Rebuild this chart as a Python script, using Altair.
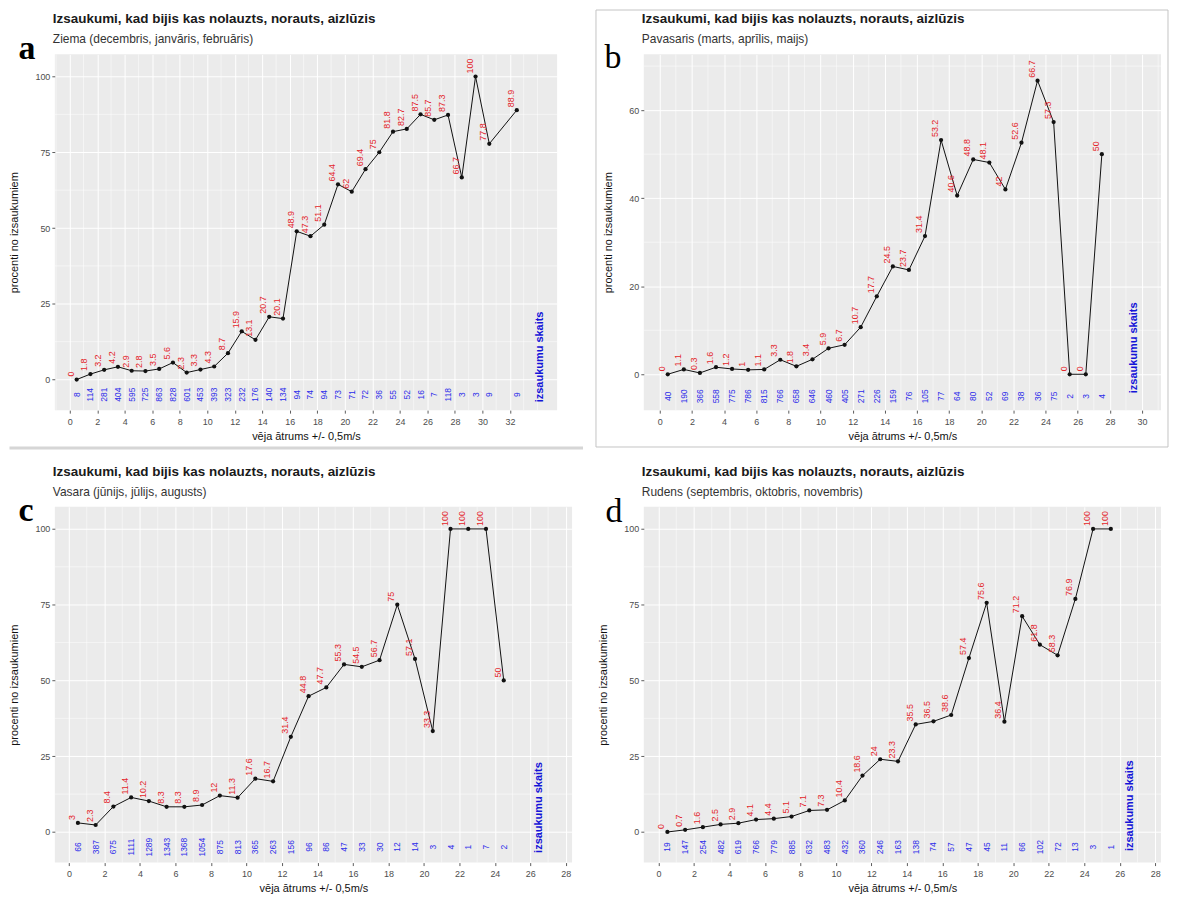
import altair as alt
import pandas as pd

TITLE = "Izsaukumi, kad bijis kas nolauzts, norauts, aizlūzis"
X_TITLE = "vēja ātrums +/- 0,5m/s"
Y_TITLE = "procenti no izsaukumiem"
NOTE = "izsaukumu skaits"

# ---- panel a: winter ----
a_season = "Ziema (decembris, janvāris, februāris)"
a_speed = [0.5, 1.5, 2.5, 3.5, 4.5, 5.5, 6.5, 7.5, 8.5, 9.5, 10.5, 11.5, 12.5, 13.5, 14.5, 15.5,
           16.5, 17.5, 18.5, 19.5, 20.5, 21.5, 22.5, 23.5, 24.5, 25.5, 26.5, 27.5, 28.5, 29.5, 30.5, 32.5]
a_pct = [0, 1.8, 3.2, 4.2, 2.9, 2.8, 3.5, 5.6, 2.3, 3.3, 4.3, 8.7, 15.9, 13.1, 20.7, 20.1,
         48.9, 47.3, 51.1, 64.4, 62, 69.4, 75, 81.8, 82.7, 87.5, 85.7, 87.3, 66.7, 100, 77.8, 88.9]
a_count = [8, 114, 281, 404, 595, 725, 863, 828, 601, 453, 393, 323, 232, 176, 140, 134,
           94, 74, 94, 73, 71, 72, 36, 55, 52, 16, 7, 118, 3, 3, 9, 9]

# ---- panel b: spring ----
b_season = "Pavasaris (marts, aprīlis, maijs)"
b_speed = [0.5, 1.5, 2.5, 3.5, 4.5, 5.5, 6.5, 7.5, 8.5, 9.5, 10.5, 11.5, 12.5, 13.5, 14.5, 15.5,
           16.5, 17.5, 18.5, 19.5, 20.5, 21.5, 22.5, 23.5, 24.5, 25.5, 26.5, 27.5]
b_pct = [0, 1.1, 0.3, 1.6, 1.2, 1, 1.1, 3.3, 1.8, 3.4, 5.9, 6.7, 10.7, 17.7, 24.5, 23.7,
         31.4, 53.2, 40.6, 48.8, 48.1, 42, 52.6, 66.7, 57.3, 0, 0, 50]
b_count = [40, 190, 366, 558, 775, 786, 815, 766, 658, 646, 460, 405, 271, 226, 159, 76,
           105, 77, 64, 80, 52, 69, 38, 36, 75, 2, 3, 4]

# ---- panel c: summer ----
c_season = "Vasara (jūnijs, jūlijs, augusts)"
c_speed = [0.5, 1.5, 2.5, 3.5, 4.5, 5.5, 6.5, 7.5, 8.5, 9.5, 10.5, 11.5, 12.5, 13.5, 14.5, 15.5,
           16.5, 17.5, 18.5, 19.5, 20.5, 21.5, 22.5, 23.5, 24.5]
c_pct = [3, 2.3, 8.4, 11.4, 10.2, 8.3, 8.3, 8.9, 12, 11.3, 17.6, 16.7, 31.4, 44.8, 47.7, 55.3,
         54.5, 56.7, 75, 57.1, 33.3, 100, 100, 100, 50]
c_count = [66, 387, 675, 1111, 1289, 1343, 1368, 1054, 875, 813, 365, 263, 156, 96, 86, 47,
           33, 30, 12, 14, 3, 4, 1, 7, 2]

# ---- panel d: autumn ----
d_season = "Rudens (septembris, oktobris, novembris)"
d_speed = [0.5, 1.5, 2.5, 3.5, 4.5, 5.5, 6.5, 7.5, 8.5, 9.5, 10.5, 11.5, 12.5, 13.5, 14.5, 15.5,
           16.5, 17.5, 18.5, 19.5, 20.5, 21.5, 22.5, 23.5, 24.5, 25.5]
d_pct = [0, 0.7, 1.6, 2.5, 2.9, 4.1, 4.4, 5.1, 7.1, 7.3, 10.4, 18.6, 24, 23.3, 35.5, 36.5,
         38.6, 57.4, 75.6, 36.4, 71.2, 61.8, 58.3, 76.9, 100, 100]
d_count = [19, 147, 254, 482, 619, 766, 779, 885, 632, 483, 432, 360, 246, 163, 138, 74,
           57, 47, 45, 11, 66, 102, 72, 13, 3, 1]

# ticks / grid
a_xticks = list(range(0, 33, 2))
b_xticks = list(range(0, 31, 2))
cd_xticks = list(range(0, 29, 2))
a_xminor = [-1] + list(range(1, 34, 2)) + [34]
b_xminor = list(range(1, 32, 2))
cd_xminor = list(range(1, 28, 2))
pct_ticks = [0, 25, 50, 75, 100]
b_yticks = [0, 20, 40, 60]
pct_minor = [12.5, 37.5, 62.5, 87.5]
b_yminor = [10, 30, 50, 70]

FONT = "Liberation Sans"
RED = "#E3262B"
BLUE = "#2B2BEA"
one = pd.DataFrame({"k": [0]})


def panel(letter, bold_letter, letter_xy, season, speed, pct, count, xdom, ydom,
          xticks, yticks, xminor, yminor, note_xy, width, height, extras=()):
    df = pd.DataFrame({"x": speed, "pct": pct, "n": count})
    X = alt.X("x:Q", scale=alt.Scale(domain=xdom, nice=False, zero=False),
              axis=alt.Axis(values=xticks, tickCount=200, format="d", title=X_TITLE,
                            labelFlush=False, labelOverlap=False))
    Y = alt.Y("pct:Q", scale=alt.Scale(domain=ydom, nice=False, zero=False),
              axis=alt.Axis(values=yticks, tickCount=200, format="d", title=Y_TITLE,
                            labelOverlap=False))

    base = alt.Chart(df)
    line = base.mark_line(color="#111111", strokeWidth=1).encode(x=X, y=Y)
    minor_x = alt.Chart(pd.DataFrame({"x": xminor})).mark_rule(
        color="white", strokeWidth=0.5).encode(x=X)
    minor_y = alt.Chart(pd.DataFrame({"pct": yminor})).mark_rule(
        color="white", strokeWidth=0.5).encode(y=Y)
    pts = base.mark_circle(size=18, color="#111111", opacity=1).encode(x=X, y=Y)
    lab = base.mark_text(angle=270, align="left", baseline="middle", dx=3, dy=-6,
                         fontSize=9, font=FONT, color=RED).encode(
        x=X, y=Y, text=alt.Text("pct:Q", format=".1~f"))
    cnt = base.mark_text(angle=270, align="center", baseline="middle",
                         fontSize=8.5, font=FONT, color=BLUE).encode(
        x=X, y=alt.datum(-5), text="n:Q")
    note = alt.Chart(one).mark_text(text=NOTE, angle=270, align="left", baseline="middle",
                                    fontSize=11, fontWeight="bold", font=FONT,
                                    color="#1414D8").encode(
        x=alt.datum(note_xy[0]), y=alt.datum(note_xy[1]))
    ttl = alt.Chart(one).mark_text(text=TITLE, align="left", baseline="middle",
                                   fontSize=13.5, fontWeight="bold", font=FONT,
                                   color="#1a1a1a").encode(x=alt.value(-2), y=alt.value(-35))
    sub = alt.Chart(one).mark_text(text=season, align="left", baseline="middle",
                                   fontSize=12, font=FONT, color="#333333").encode(
        x=alt.value(-2), y=alt.value(-15))
    let = alt.Chart(one).mark_text(text=letter, align="center", baseline="alphabetic",
                                   fontSize=34, font="Liberation Serif",
                                   fontWeight="bold" if bold_letter else "normal",
                                   color="black").encode(
        x=alt.value(letter_xy[0]), y=alt.value(letter_xy[1]))
    layers = [minor_x, minor_y, line, pts, lab, cnt, note, ttl, sub, let] + list(extras)
    return alt.layer(*layers).properties(width=width, height=height)


sep_a = alt.Chart(one).mark_rule(color="#D6D6D6", strokeWidth=3).encode(
    x=alt.value(-45.5), x2=alt.value(530), y=alt.value(395))
frame_b = alt.Chart(one).mark_rect(fill="transparent", stroke="#C4C4C4", strokeWidth=1).encode(
    x=alt.value(-48), x2=alt.value(526), y=alt.value(-44.5), y2=alt.value(394))

pa = panel("a", True, (-28, 5), a_season, a_speed, a_pct, a_count,
           [-1.087, 35.43], [-10.1, 107.3], a_xticks, pct_ticks, a_xminor, pct_minor,
           (34.2, -7.5), 504, 357, [sep_a])
pb = panel("b", False, (-31, 14), b_season, b_speed, b_pct, b_count,
           [-0.99, 31.18], [-8.15, 72.67], b_xticks, b_yticks, b_xminor, b_yminor,
           (29.5, -4.3), 519, 357, [frame_b])
pc = panel("c", True, (-29, 14), c_season, c_speed, c_pct, c_count,
           [-0.80, 28.35], [-10.1, 107.3], cd_xticks, pct_ticks, cd_xminor, pct_minor,
           (26.5, -6.9), 519, 357)
pdd = panel("d", False, (-30, 15), d_season, d_speed, d_pct, d_count,
            [-0.83, 28.33], [-10.1, 107.3], cd_xticks, pct_ticks, cd_xminor, pct_minor,
            (26.6, -6.3), 519, 357)

chart = alt.concat(pa, pb, pc, pdd, columns=2, spacing={"row": 97, "column": 72},
                   bounds="flush").properties(padding=0)
chart = chart.configure_view(fill="#EBEBEB", stroke=None).configure_axis(
    domain=False, grid=True, gridColor="white", gridWidth=1,
    tickColor="#333333", tickSize=3, tickWidth=0.8,
    labelColor="#4D4D4D", labelFontSize=9, labelFont=FONT,
    titleFont=FONT, titleFontSize=11, titleFontWeight="normal", titleColor="#111111"
).configure_axisX(labelPadding=4, titlePadding=4).configure_axisY(labelPadding=2, titlePadding=15)

chart.save("out.html", embed_options={"renderer": "svg", "actions": False})
